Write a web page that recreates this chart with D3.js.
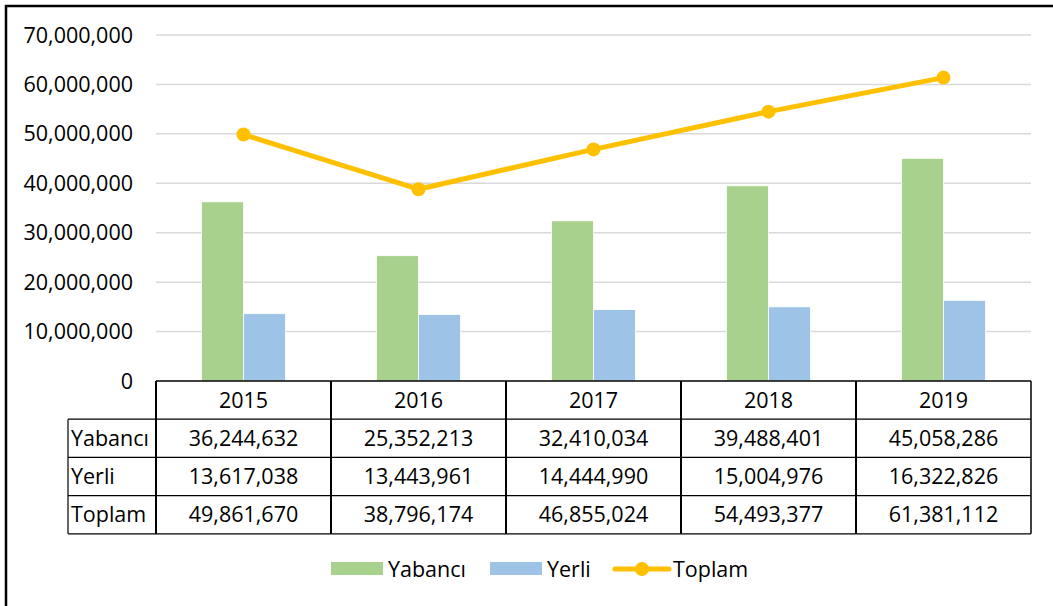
<!DOCTYPE html>
<html>
<head>
<meta charset="utf-8">
<script src="https://cdn.jsdelivr.net/npm/d3@7"></script>
<style>
  html, body { margin: 0; padding: 0; background: #fff; }
  svg { display: block; font-family: "Open Sans", "Liberation Sans", sans-serif; }
</style>
</head>
<body>
<div id="chart"></div>
<script>
// data
const years = ["2015", "2016", "2017", "2018", "2019"];
const yabanci = [36244632, 25352213, 32410034, 39488401, 45058286];
const yerli = [13617038, 13443961, 14444990, 15004976, 16322826];
const toplam = [49861670, 38796174, 46855024, 54493377, 61381112];
const seriesNames = ["Yabancı", "Yerli", "Toplam"];
const yTicks = [0, 10000000, 20000000, 30000000, 40000000, 50000000, 60000000, 70000000];

const WIDTH = 1053, HEIGHT = 606;
const plotLeft = 156, plotRight = 1031, plotTop = 35, plotBottom = 381;
const rowH = 38.2;
const labelLeft = 68;

const GREEN = "#A9D18E", BLUE = "#9DC3E6", GOLD = "#FFC000";
const FS = 21.5;

const svg = d3.select("#chart").append("svg")
  .attr("width", WIDTH).attr("height", HEIGHT);

// outer frame
svg.append("rect")
  .attr("x", 6).attr("y", 6)
  .attr("width", WIDTH + 10).attr("height", HEIGHT + 10)
  .attr("fill", "none").attr("stroke", "#000").attr("stroke-width", 2.5);

const x = d3.scaleBand().domain(years).range([plotLeft, plotRight]);
const y = d3.scaleLinear().domain([0, 70000000]).range([plotBottom, plotTop]);
const barW = x.bandwidth() * 0.24;
const fmt = d3.format(",");

// gridlines
svg.append("g").selectAll("line")
  .data(yTicks.filter(d => d > 0))
  .join("line")
    .attr("x1", plotLeft).attr("x2", plotRight)
    .attr("y1", d => y(d)).attr("y2", d => y(d))
    .attr("stroke", "#D9D9D9").attr("stroke-width", 1.5);

// y axis labels
svg.append("g").selectAll("text")
  .data(yTicks)
  .join("text")
    .attr("x", 133).attr("y", d => y(d))
    .attr("dy", "0.35em")
    .attr("text-anchor", "end")
    .attr("font-size", FS).attr("fill", "#000")
    .text(d => fmt(d));

// bars
const bars = svg.append("g");
bars.selectAll(".yab")
  .data(years.map((yr, i) => ({ yr, v: yabanci[i] })))
  .join("rect")
    .attr("x", d => x(d.yr) + x.bandwidth() / 2 - barW)
    .attr("y", d => y(d.v))
    .attr("width", barW).attr("height", d => plotBottom - y(d.v))
    .attr("fill", GREEN).attr("stroke", "#fff").attr("stroke-width", 0.8);
bars.selectAll(".yer")
  .data(years.map((yr, i) => ({ yr, v: yerli[i] })))
  .join("rect")
    .attr("x", d => x(d.yr) + x.bandwidth() / 2)
    .attr("y", d => y(d.v))
    .attr("width", barW).attr("height", d => plotBottom - y(d.v))
    .attr("fill", BLUE).attr("stroke", "#fff").attr("stroke-width", 0.8);

// total line
const pts = years.map((yr, i) => [x(yr) + x.bandwidth() / 2, y(toplam[i])]);
svg.append("path")
  .datum(pts)
  .attr("d", d3.line())
  .attr("fill", "none").attr("stroke", GOLD)
  .attr("stroke-width", 5).attr("stroke-linejoin", "round");
svg.append("g").selectAll("circle")
  .data(pts)
  .join("circle")
    .attr("cx", d => d[0]).attr("cy", d => d[1]).attr("r", 7)
    .attr("fill", GOLD);

// data table
const table = svg.append("g");
const rowsData = [yabanci, yerli, toplam];
const tableBottom = plotBottom + rowH * 4;
const line = (x1, y1, x2, y2, w) => table.append("line")
  .attr("x1", x1).attr("y1", y1).attr("x2", x2).attr("y2", y2)
  .attr("stroke", "#000").attr("stroke-width", w);

// horizontal lines
line(plotLeft, plotBottom, plotRight, plotBottom, 1.5);
for (let r = 1; r <= 4; r++) line(labelLeft, plotBottom + rowH * r, plotRight, plotBottom + rowH * r, 1.2);
// vertical lines
line(labelLeft, plotBottom + rowH, labelLeft, tableBottom, 1.2);
years.forEach(yr => line(x(yr), plotBottom, x(yr), tableBottom, 2));
line(plotRight, plotBottom, plotRight, tableBottom, 1.5);

// header years
table.selectAll(".yr")
  .data(years)
  .join("text")
    .attr("x", d => x(d) + x.bandwidth() / 2)
    .attr("y", plotBottom + rowH / 2)
    .attr("dy", "0.35em").attr("text-anchor", "middle")
    .attr("font-size", FS).text(d => d);

// row labels and values
rowsData.forEach((vals, r) => {
  const cy = plotBottom + rowH * (r + 1.5);
  table.append("text")
    .attr("x", labelLeft + 3).attr("y", cy).attr("dy", "0.35em")
    .attr("font-size", FS).text(seriesNames[r]);
  table.selectAll(null)
    .data(vals)
    .join("text")
      .attr("x", (d, i) => x(years[i]) + x.bandwidth() / 2)
      .attr("y", cy).attr("dy", "0.35em").attr("text-anchor", "middle")
      .attr("font-size", FS).text(d => fmt(d));
});

// legend
const lg = svg.append("g").attr("transform", "translate(0,569)");
lg.append("rect").attr("x", 331).attr("y", -7).attr("width", 52).attr("height", 13).attr("fill", GREEN);
lg.append("text").attr("x", 388).attr("y", 0).attr("dy", "0.35em").attr("font-size", FS).text(seriesNames[0]);
lg.append("rect").attr("x", 490).attr("y", -7).attr("width", 52).attr("height", 13).attr("fill", BLUE);
lg.append("text").attr("x", 547).attr("y", 0).attr("dy", "0.35em").attr("font-size", FS).text(seriesNames[1]);
lg.append("line").attr("x1", 615).attr("x2", 669).attr("y1", 0).attr("y2", 0)
  .attr("stroke", GOLD).attr("stroke-width", 5).attr("stroke-linecap", "round");
lg.append("circle").attr("cx", 642).attr("cy", 0).attr("r", 7).attr("fill", GOLD);
lg.append("text").attr("x", 673).attr("y", 0).attr("dy", "0.35em").attr("font-size", FS).text(seriesNames[2]);
</script>
</body>
</html>
